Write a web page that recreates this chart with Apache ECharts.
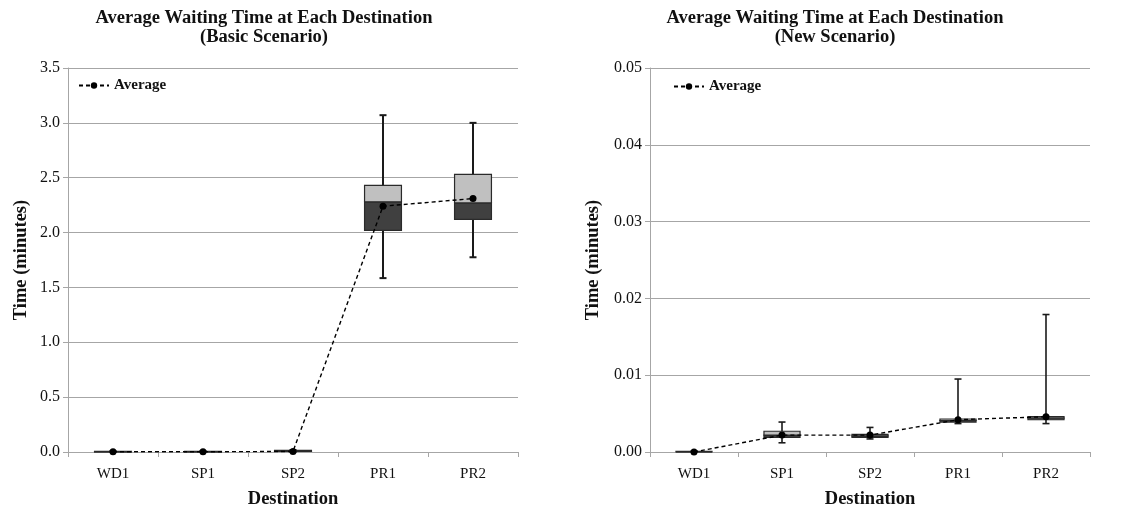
<!DOCTYPE html>
<html>
<head>
<meta charset="utf-8">
<script src="https://cdn.jsdelivr.net/npm/echarts@6/dist/echarts.min.js"></script>
<style>html,body{margin:0;padding:0;background:#fff}#c{width:1124px;height:510px}</style>
</head>
<body>
<div id="c"></div>
<script>
const categories = ['WD1', 'SP1', 'SP2', 'PR1', 'PR2'];

// Basic scenario (minutes)
const basicLow     = [0.000, 0.000, 0.000, 1.585, 1.775];
const basicQ1      = [0.000, 0.000, 0.005, 2.02, 2.12];
const basicMedian  = [0.002, 0.002, 0.008, 2.28, 2.27];
const basicQ3      = [0.005, 0.005, 0.015, 2.43, 2.53];
const basicHigh    = [0.008, 0.008, 0.018, 3.07, 3.00];
const basicAverage = [0.002, 0.002, 0.005, 2.24, 2.31];

// New scenario (minutes)
const newLow     = [0.0000, 0.0012, 0.0017, 0.0037, 0.0037];
const newQ1      = [0.0000, 0.0019, 0.0019, 0.0039, 0.0042];
const newMedian  = [0.0000, 0.0022, 0.0021, 0.0041, 0.0044];
const newQ3      = [0.0001, 0.0027, 0.0023, 0.0043, 0.0046];
const newHigh    = [0.0001, 0.0039, 0.0032, 0.0095, 0.0179];
const newAverage = [0.0000, 0.0022, 0.0022, 0.0042, 0.0046];

const FONT = 'Liberation Serif';

function boxData(low, q1, med, q3, high) {
  return categories.map((c, i) => [i, low[i], q1[i], med[i], q3[i], high[i]]);
}

function makeRender(lw) {
  return function (params, api) {
    const x = api.value(0);
    const pLow = api.coord([x, api.value(1)]);
    const pQ1 = api.coord([x, api.value(2)]);
    const pMed = api.coord([x, api.value(3)]);
    const pQ3 = api.coord([x, api.value(4)]);
    const pHigh = api.coord([x, api.value(5)]);
    const bw = api.size([1, 0])[0] * 0.41;
    const cx = pMed[0];
    const cap = 3.5;
    const stroke = '#1a1a1a';
    return {
      type: 'group',
      children: [
        { type: 'line', shape: { x1: cx, y1: pQ3[1], x2: cx, y2: pHigh[1] }, style: { stroke: stroke, lineWidth: lw } },
        { type: 'line', shape: { x1: cx - cap, y1: pHigh[1], x2: cx + cap, y2: pHigh[1] }, style: { stroke: stroke, lineWidth: lw } },
        { type: 'line', shape: { x1: cx, y1: pLow[1], x2: cx, y2: pQ1[1] }, style: { stroke: stroke, lineWidth: lw } },
        { type: 'line', shape: { x1: cx - cap, y1: pLow[1], x2: cx + cap, y2: pLow[1] }, style: { stroke: stroke, lineWidth: lw } },
        { type: 'rect', shape: { x: cx - bw / 2, y: pMed[1], width: bw, height: pQ1[1] - pMed[1] }, style: { fill: '#404040', stroke: '#2a2a2a', lineWidth: 1.2 } },
        { type: 'rect', shape: { x: cx - bw / 2, y: pQ3[1], width: bw, height: pMed[1] - pQ3[1] }, style: { fill: '#c0c0c0', stroke: '#2a2a2a', lineWidth: 1.2 } }
      ]
    };
  };
}

const gridLine = { lineStyle: { color: '#a6a6a6', width: 1 } };
const axisLineStyle = { lineStyle: { color: '#a6a6a6', width: 1 } };

function xAxis(gridIndex) {
  return {
    type: 'category', gridIndex: gridIndex, data: categories,
    boundaryGap: true,
    axisLine: axisLineStyle,
    axisTick: { show: true, length: 5, lineStyle: { color: '#a6a6a6' } },
    axisLabel: { margin: 15, fontFamily: FONT, fontSize: 15, color: '#111' },
    name: 'Destination', nameLocation: 'middle', nameGap: 38,
    nameTextStyle: { fontFamily: FONT, fontSize: 18.5, fontWeight: 'bold', color: '#111' }
  };
}

function yAxis(gridIndex, max, interval, decimals, gap) {
  return {
    type: 'value', gridIndex: gridIndex, min: 0, max: max, interval: interval,
    axisLine: Object.assign({ show: true }, axisLineStyle),
    axisTick: { show: true, length: 5, lineStyle: { color: '#a6a6a6' } },
    splitLine: gridLine,
    axisLabel: { margin: 8, formatter: v => v.toFixed(decimals), fontFamily: FONT, fontSize: 16, color: '#111' },
    name: 'Time (minutes)', nameLocation: 'middle', nameGap: gap, nameRotate: 90,
    nameTextStyle: { fontFamily: FONT, fontSize: 18.5, fontWeight: 'bold', color: '#111' }
  };
}

function avgSeries(name, data, xi, yi) {
  return {
    type: 'line', name: name, xAxisIndex: xi, yAxisIndex: yi, data: data,
    symbol: 'circle', symbolSize: 7, z: 5,
    itemStyle: { color: '#000' },
    lineStyle: { color: '#000', width: 1.4, type: [4, 3] }
  };
}

const legendText = { fontFamily: FONT, fontSize: 15, fontWeight: 'bold', color: '#111' };
const titleText = { fontFamily: FONT, fontSize: 18.5, fontWeight: 'bold', color: '#111', lineHeight: 19 };

const chart = echarts.init(document.getElementById('c'));
chart.setOption({
  animation: false,
  backgroundColor: '#fff',
  title: [
    { text: 'Average Waiting Time at Each Destination\n(Basic Scenario)', left: 264, top: 9, textAlign: 'center', padding: 0, textStyle: titleText },
    { text: 'Average Waiting Time at Each Destination\n(New Scenario)', left: 835, top: 9, textAlign: 'center', padding: 0, textStyle: titleText }
  ],
  legend: [
    { data: ['Average'], left: 78, top: 78, padding: 0, itemWidth: 30, itemHeight: 8, textStyle: legendText },
    { data: ['Average'], left: 673, top: 79, padding: 0, itemWidth: 30, itemHeight: 8, textStyle: legendText }
  ],
  grid: [
    { left: 68, right: 606, top: 68, bottom: 58, containLabel: false, outerBoundsMode: 'none' },
    { left: 650, right: 34, top: 68, bottom: 58, containLabel: false, outerBoundsMode: 'none' }
  ],
  xAxis: [xAxis(0), xAxis(1)],
  yAxis: [yAxis(0, 3.5, 0.5, 1, 37), yAxis(1, 0.05, 0.01, 2, 47)],
  series: [
    { type: 'custom', name: 'BasicBox', xAxisIndex: 0, yAxisIndex: 0, renderItem: makeRender(2),
      encode: { x: 0, y: [1, 2, 3, 4, 5] }, data: boxData(basicLow, basicQ1, basicMedian, basicQ3, basicHigh), z: 2 },
    avgSeries('Average', basicAverage, 0, 0),
    { type: 'custom', name: 'NewBox', xAxisIndex: 1, yAxisIndex: 1, renderItem: makeRender(1.6),
      encode: { x: 0, y: [1, 2, 3, 4, 5] }, data: boxData(newLow, newQ1, newMedian, newQ3, newHigh), z: 2 },
    avgSeries('Average', newAverage, 1, 1)
  ]
});
</script>
</body>
</html>
